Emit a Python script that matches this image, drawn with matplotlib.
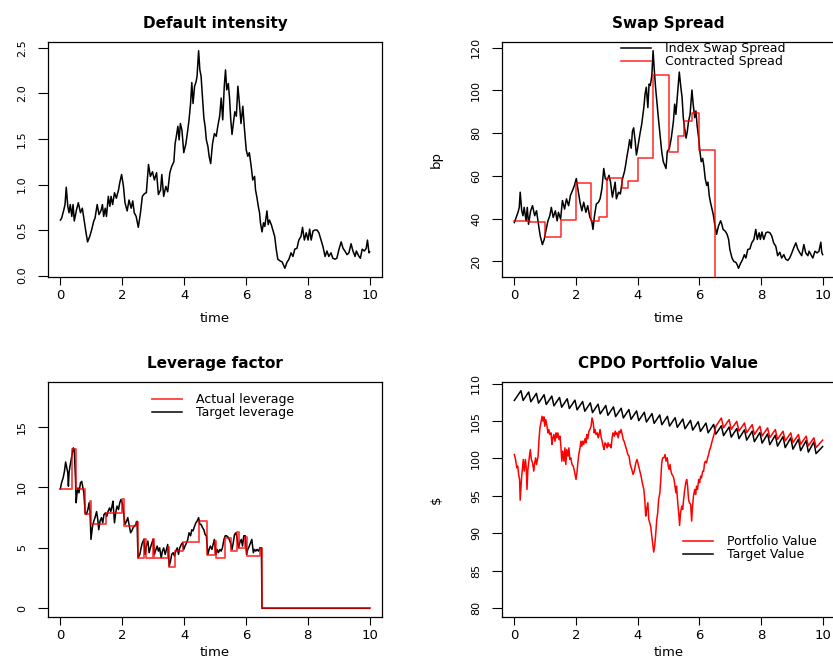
import numpy as np
import matplotlib
matplotlib.use('Agg')
import matplotlib.pyplot as plt

plt.rcParams['font.family'] = ['DejaVu Sans']

W, H = 833, 662

# default intensity path (time, lambda)
intensity = [
    (0.00, 0.61), (0.04, 0.63), (0.11, 0.72), (0.15, 0.78), (0.19, 0.97), (0.24, 0.76),
    (0.28, 0.69), (0.32, 0.78), (0.37, 0.65), (0.41, 0.78), (0.45, 0.60), (0.52, 0.72),
    (0.58, 0.80), (0.65, 0.69), (0.71, 0.74), (0.78, 0.58), (0.83, 0.47), (0.88, 0.37),
    (0.95, 0.43), (1.01, 0.50), (1.08, 0.60), (1.12, 0.63), (1.19, 0.78), (1.25, 0.67),
    (1.32, 0.72), (1.36, 0.78), (1.40, 0.65), (1.45, 0.74), (1.49, 0.65), (1.55, 0.87),
    (1.60, 0.76), (1.64, 0.87), (1.69, 0.78), (1.75, 0.91), (1.81, 0.85), (1.88, 0.94),
    (1.92, 1.02), (1.98, 1.11), (2.04, 0.98), (2.09, 0.80), (2.16, 0.71), (2.22, 0.83),
    (2.29, 0.74), (2.34, 0.82), (2.39, 0.69), (2.45, 0.65), (2.52, 0.53), (2.59, 0.69),
    (2.65, 0.87), (2.72, 0.90), (2.78, 0.91), (2.85, 1.22), (2.91, 1.09), (2.98, 1.14),
    (3.04, 1.05), (3.11, 1.13), (3.17, 0.89), (3.24, 0.94), (3.28, 1.11), (3.34, 0.87),
    (3.41, 0.98), (3.47, 0.92), (3.54, 1.13), (3.60, 1.20), (3.67, 1.25), (3.71, 1.45),
    (3.75, 1.53), (3.80, 1.64), (3.84, 1.49), (3.88, 1.67), (3.93, 1.60), (3.99, 1.35),
    (4.06, 1.45), (4.12, 1.60), (4.16, 1.71), (4.21, 1.89), (4.25, 2.12), (4.29, 1.89),
    (4.34, 2.08), (4.39, 2.13), (4.42, 2.19), (4.47, 2.47), (4.51, 2.26), (4.55, 2.19),
    (4.60, 1.93), (4.64, 1.73), (4.68, 1.64), (4.72, 1.49), (4.77, 1.42), (4.81, 1.31),
    (4.86, 1.23), (4.92, 1.45), (4.98, 1.56), (5.04, 1.53), (5.09, 1.64), (5.15, 1.75),
    (5.20, 1.95), (5.25, 1.71), (5.30, 2.08), (5.34, 2.26), (5.38, 2.04), (5.43, 2.11),
    (5.47, 1.95), (5.51, 1.71), (5.55, 1.55), (5.60, 1.69), (5.64, 1.80), (5.69, 1.75),
    (5.74, 2.08), (5.79, 1.89), (5.84, 1.67), (5.90, 1.86), (5.95, 1.62), (6.01, 1.38),
    (6.06, 1.31), (6.11, 1.35), (6.17, 1.20), (6.22, 1.05), (6.28, 1.09), (6.31, 0.94),
    (6.35, 0.87), (6.40, 0.76), (6.44, 0.69), (6.47, 0.58), (6.52, 0.48), (6.57, 0.58),
    (6.61, 0.54), (6.68, 0.71), (6.72, 0.56), (6.76, 0.61), (6.82, 0.56), (6.87, 0.50),
    (6.93, 0.43), (6.98, 0.29), (7.03, 0.18), (7.11, 0.16), (7.17, 0.15), (7.26, 0.08),
    (7.32, 0.14), (7.39, 0.18), (7.46, 0.25), (7.52, 0.21), (7.58, 0.29), (7.65, 0.30),
    (7.71, 0.39), (7.78, 0.43), (7.83, 0.53), (7.89, 0.39), (7.95, 0.47), (8.01, 0.39),
    (8.06, 0.51), (8.11, 0.39), (8.17, 0.49), (8.23, 0.50), (8.30, 0.50), (8.36, 0.47),
    (8.43, 0.39), (8.49, 0.32), (8.56, 0.21), (8.62, 0.27), (8.68, 0.21), (8.75, 0.25),
    (8.81, 0.19), (8.88, 0.18), (8.94, 0.19), (9.01, 0.29), (9.08, 0.37), (9.14, 0.30),
    (9.20, 0.27), (9.27, 0.23), (9.33, 0.25), (9.40, 0.35), (9.46, 0.27), (9.53, 0.21),
    (9.57, 0.27), (9.64, 0.22), (9.70, 0.19), (9.76, 0.29), (9.83, 0.27), (9.89, 0.30),
    (9.93, 0.39), (9.98, 0.25), (10.00, 0.26),
]

# index swap spread in bp
index_spread = [
    (0.00, 38.2), (0.04, 39.8), (0.12, 43.0), (0.16, 45.3), (0.19, 52.4), (0.24, 43.7),
    (0.28, 41.4), (0.32, 45.3), (0.38, 39.0), (0.42, 45.3), (0.46, 37.4), (0.53, 43.7),
    (0.59, 46.1), (0.66, 41.4), (0.72, 43.7), (0.79, 36.6), (0.84, 31.9), (0.91, 27.9),
    (0.97, 30.3), (1.02, 34.2), (1.09, 39.0), (1.15, 41.4), (1.20, 45.3), (1.26, 40.6),
    (1.33, 43.7), (1.39, 39.0), (1.43, 43.0), (1.50, 39.8), (1.56, 48.5), (1.63, 44.5),
    (1.69, 49.3), (1.76, 46.1), (1.82, 50.9), (1.89, 53.3), (1.95, 55.6), (2.01, 58.8),
    (2.06, 54.0), (2.13, 47.7), (2.19, 43.7), (2.25, 47.7), (2.32, 43.0), (2.38, 46.1),
    (2.45, 40.6), (2.51, 39.0), (2.55, 35.0), (2.60, 41.4), (2.66, 46.9), (2.73, 47.7),
    (2.78, 49.3), (2.84, 54.0), (2.90, 63.5), (2.95, 58.8), (3.01, 58.0), (3.07, 60.3),
    (3.12, 57.1), (3.18, 50.1), (3.23, 54.0), (3.27, 57.1), (3.31, 49.3), (3.38, 52.4),
    (3.44, 51.6), (3.51, 58.8), (3.57, 61.9), (3.61, 65.1), (3.66, 69.8), (3.70, 73.0),
    (3.74, 77.0), (3.79, 73.0), (3.83, 80.9), (3.87, 82.5), (3.92, 76.2), (3.96, 69.8),
    (4.00, 73.0), (4.07, 79.3), (4.13, 84.1), (4.20, 92.0), (4.24, 98.3), (4.28, 101.5),
    (4.33, 92.0), (4.37, 103.0), (4.41, 102.3), (4.46, 107.0), (4.50, 118.6), (4.54, 109.4),
    (4.58, 101.5), (4.63, 93.6), (4.67, 87.3), (4.72, 80.0), (4.78, 71.4), (4.83, 66.7),
    (4.92, 63.5), (4.96, 71.4), (5.03, 73.0), (5.09, 77.7), (5.16, 85.6), (5.20, 93.6),
    (5.24, 88.8), (5.30, 99.9), (5.35, 108.6), (5.40, 101.5), (5.44, 96.8), (5.48, 87.3),
    (5.52, 82.5), (5.57, 77.7), (5.61, 80.9), (5.65, 85.6), (5.70, 88.8), (5.76, 100.2),
    (5.80, 93.6), (5.85, 87.3), (5.89, 90.4), (5.93, 83.3), (5.98, 77.7), (6.02, 71.4),
    (6.06, 66.7), (6.11, 68.2), (6.15, 64.3), (6.19, 58.8), (6.24, 55.6), (6.28, 57.1),
    (6.32, 50.9), (6.36, 47.7), (6.41, 44.5), (6.45, 42.1), (6.50, 37.4), (6.56, 32.7),
    (6.62, 36.6), (6.69, 39.0), (6.73, 37.4), (6.77, 35.0), (6.84, 34.2), (6.90, 32.7),
    (6.95, 30.3), (6.99, 25.6), (7.06, 21.6), (7.12, 20.0), (7.19, 19.5), (7.23, 18.4),
    (7.27, 16.8), (7.34, 19.2), (7.40, 20.8), (7.46, 23.2), (7.51, 21.6), (7.57, 25.6),
    (7.64, 25.9), (7.70, 28.7), (7.77, 30.3), (7.83, 35.0), (7.88, 30.3), (7.94, 33.4),
    (7.98, 30.3), (8.03, 33.8), (8.09, 30.3), (8.16, 33.4), (8.22, 33.8), (8.29, 33.4),
    (8.35, 31.9), (8.41, 28.7), (8.48, 27.1), (8.54, 22.7), (8.61, 24.3), (8.67, 21.6),
    (8.74, 23.2), (8.80, 21.1), (8.87, 20.5), (8.93, 21.6), (9.00, 24.0), (9.06, 26.3),
    (9.13, 28.7), (9.19, 25.9), (9.26, 24.0), (9.32, 22.7), (9.39, 27.9), (9.45, 24.0),
    (9.52, 22.7), (9.56, 24.8), (9.62, 23.2), (9.68, 21.6), (9.75, 24.8), (9.82, 24.0),
    (9.88, 24.8), (9.94, 29.0), (9.97, 24.3), (10.00, 23.2),
]

# contracted spread, reset at each roll date
contracted_spread = [
    (0.00, 39.0), (0.50, 38.6), (1.00, 31.4), (1.50, 39.3), (2.00, 56.7), (2.50, 38.7),
    (2.75, 40.6), (3.00, 59.0), (3.50, 54.5), (3.70, 57.7), (4.00, 68.2), (4.50, 107.0),
    (5.00, 71.4), (5.30, 78.7), (5.50, 85.7), (5.75, 89.3), (6.00, 72.0), (6.50, 0.0),
    (10.00, 0.0),
]

# actual leverage (piecewise constant between rebalancings)
actual_leverage = [
    (0.00, 9.88), (0.38, 13.2), (0.51, 9.88), (0.81, 7.84), (0.97, 8.86), (1.00, 7.00),
    (1.48, 7.90), (2.00, 9.08), (2.07, 6.83), (2.45, 7.16), (2.52, 4.18), (2.72, 5.70),
    (2.76, 4.18), (3.00, 5.75), (3.04, 4.18), (3.47, 5.10), (3.50, 3.45), (3.72, 4.70),
    (3.97, 5.45), (4.48, 7.24), (4.75, 4.38), (5.00, 5.55), (5.02, 4.18), (5.33, 5.85),
    (5.52, 4.75), (5.72, 6.30), (5.78, 5.00), (5.98, 5.90), (6.02, 4.32), (6.47, 5.00),
    (6.52, 0.0), (10.00, 0.0),
]

target_leverage = [
    (0.00, 9.88), (0.04, 10.4), (0.09, 10.8), (0.13, 11.3), (0.17, 12.1), (0.20, 11.7),
    (0.24, 11.2), (0.26, 10.1), (0.28, 11.2), (0.31, 11.75), (0.35, 12.3), (0.39, 12.85),
    (0.42, 13.27), (0.45, 13.1), (0.49, 10.65), (0.51, 8.73), (0.54, 9.55), (0.57, 9.96),
    (0.60, 9.55), (0.65, 10.38), (0.69, 10.5), (0.72, 10.1), (0.76, 9.55), (0.80, 7.9),
    (0.84, 7.76), (0.89, 8.17), (0.93, 8.73), (0.96, 7.9), (0.99, 5.7), (1.04, 6.8),
    (1.08, 7.2), (1.12, 7.5), (1.17, 8.0), (1.21, 7.35), (1.24, 6.5), (1.28, 7.2),
    (1.33, 7.5), (1.37, 7.07), (1.41, 7.76), (1.46, 7.9), (1.50, 7.6), (1.54, 8.0),
    (1.59, 8.3), (1.63, 8.0), (1.67, 8.45), (1.70, 8.86), (1.75, 7.07), (1.79, 7.9),
    (1.83, 8.45), (1.88, 8.17), (1.92, 8.73), (1.96, 9.0), (2.01, 8.6), (2.05, 7.76),
    (2.09, 6.94), (2.14, 7.2), (2.18, 7.5), (2.22, 6.94), (2.27, 6.25), (2.31, 6.4),
    (2.35, 6.66), (2.39, 6.8), (2.44, 6.94), (2.48, 7.2), (2.51, 4.18), (2.57, 4.46),
    (2.61, 5.0), (2.65, 5.42), (2.70, 5.7), (2.74, 4.46), (2.78, 5.15), (2.83, 5.56),
    (2.87, 4.6), (2.91, 5.0), (2.96, 5.42), (3.00, 5.7), (3.04, 4.46), (3.09, 4.87),
    (3.13, 5.15), (3.17, 4.73), (3.21, 5.0), (3.26, 4.18), (3.30, 4.73), (3.34, 5.0),
    (3.39, 4.46), (3.43, 4.87), (3.47, 5.28), (3.52, 3.5), (3.56, 3.9), (3.60, 4.46),
    (3.65, 4.6), (3.69, 4.32), (3.73, 4.73), (3.78, 5.0), (3.82, 4.46), (3.86, 5.0),
    (3.91, 5.28), (3.95, 5.42), (3.99, 4.87), (4.03, 5.15), (4.08, 5.42), (4.12, 5.7),
    (4.16, 6.25), (4.21, 6.0), (4.25, 6.5), (4.29, 6.4), (4.34, 6.8), (4.38, 7.07),
    (4.42, 7.2), (4.47, 7.5), (4.51, 6.94), (4.55, 6.94), (4.60, 6.66), (4.64, 6.5),
    (4.68, 6.1), (4.72, 6.0), (4.77, 4.46), (4.81, 4.87), (4.85, 5.15), (4.90, 4.87),
    (4.94, 5.28), (4.98, 5.7), (5.03, 4.46), (5.07, 4.87), (5.11, 4.6), (5.16, 4.87),
    (5.20, 4.73), (5.24, 5.0), (5.29, 5.7), (5.33, 6.0), (5.37, 6.0), (5.42, 5.9),
    (5.46, 5.7), (5.50, 5.42), (5.55, 4.87), (5.59, 5.42), (5.63, 6.1), (5.68, 6.25),
    (5.72, 5.7), (5.76, 5.0), (5.80, 5.42), (5.85, 5.7), (5.89, 5.15), (5.93, 6.0),
    (5.98, 6.0), (6.02, 4.46), (6.06, 4.87), (6.11, 5.15), (6.15, 5.42), (6.19, 5.7),
    (6.24, 4.6), (6.28, 4.87), (6.32, 4.73), (6.36, 4.87), (6.41, 4.73), (6.45, 5.0),
    (6.50, 5.0), (6.52, 0.0), (10.00, 0.0),
]

# CPDO portfolio value up to the cash-in
portfolio_value = [
    (0.00, 100.53), (0.04, 99.87), (0.08, 98.76), (0.11, 98.98), (0.14, 97.87), (0.17, 97.2),
    (0.19, 94.44), (0.23, 97.2), (0.26, 98.53), (0.29, 99.87), (0.32, 98.31), (0.36, 99.87),
    (0.39, 98.53), (0.41, 95.87), (0.44, 98.53), (0.49, 100.31), (0.52, 101.2), (0.55, 99.87),
    (0.59, 99.42), (0.63, 98.31), (0.66, 99.42), (0.69, 100.09), (0.72, 99.2), (0.77, 100.31),
    (0.80, 102.53), (0.83, 104.09), (0.86, 104.76), (0.90, 105.64), (0.93, 104.98), (0.96, 105.56),
    (0.99, 104.31), (1.02, 105.2), (1.06, 104.31), (1.09, 103.42), (1.12, 103.87), (1.15, 103.2),
    (1.19, 103.42), (1.22, 101.87), (1.25, 102.76), (1.28, 103.2), (1.32, 102.31), (1.35, 103.42),
    (1.38, 102.76), (1.41, 103.42), (1.45, 102.53), (1.48, 102.98), (1.51, 101.64), (1.54, 99.64),
    (1.57, 100.98), (1.61, 99.64), (1.64, 101.42), (1.67, 99.2), (1.70, 101.2), (1.74, 100.31),
    (1.77, 101.42), (1.80, 99.87), (1.83, 100.09), (1.87, 99.2), (1.91, 98.98), (1.95, 98.31),
    (2.00, 97.2), (2.03, 98.09), (2.06, 99.42), (2.09, 100.53), (2.13, 101.42), (2.16, 102.31),
    (2.19, 101.64), (2.22, 102.31), (2.25, 101.87), (2.29, 102.62), (2.32, 102.09), (2.35, 103.2),
    (2.38, 102.62), (2.42, 103.64), (2.45, 103.87), (2.49, 104.31), (2.52, 105.42), (2.56, 104.76),
    (2.59, 103.42), (2.62, 103.87), (2.65, 103.2), (2.69, 103.42), (2.72, 102.76), (2.75, 103.2),
    (2.78, 103.87), (2.82, 102.76), (2.85, 102.31), (2.88, 101.64), (2.91, 101.2), (2.94, 102.09),
    (2.98, 101.87), (3.01, 101.42), (3.04, 102.09), (3.07, 101.64), (3.11, 101.87), (3.14, 101.42),
    (3.17, 102.76), (3.20, 103.42), (3.24, 102.98), (3.27, 103.64), (3.30, 103.2), (3.33, 103.42),
    (3.37, 102.76), (3.40, 103.64), (3.43, 103.42), (3.46, 103.87), (3.50, 103.2), (3.53, 102.53),
    (3.56, 102.31), (3.59, 101.87), (3.64, 101.2), (3.68, 100.53), (3.72, 100.31), (3.76, 99.2),
    (3.81, 98.53), (3.85, 97.87), (3.89, 98.31), (3.94, 99.42), (3.98, 99.87), (4.02, 99.2),
    (4.07, 98.31), (4.11, 97.64), (4.15, 96.76), (4.20, 95.87), (4.23, 94.53), (4.26, 92.31),
    (4.29, 93.2), (4.33, 94.09), (4.36, 91.87), (4.39, 91.42), (4.42, 90.98), (4.46, 89.64),
    (4.49, 88.53), (4.52, 87.51), (4.55, 88.31), (4.58, 89.64), (4.62, 91.87), (4.65, 92.76),
    (4.68, 94.53), (4.72, 95.42), (4.75, 97.2), (4.78, 99.42), (4.81, 100.09), (4.85, 100.09),
    (4.89, 100.53), (4.92, 99.64), (4.96, 100.09), (4.99, 98.98), (5.02, 98.53), (5.05, 99.2),
    (5.08, 98.31), (5.11, 97.87), (5.15, 97.64), (5.18, 97.2), (5.21, 96.31), (5.24, 95.42),
    (5.26, 96.31), (5.30, 94.09), (5.33, 92.76), (5.36, 91.07), (5.39, 92.76), (5.43, 93.64),
    (5.46, 93.2), (5.49, 94.53), (5.52, 95.64), (5.56, 96.76), (5.59, 97.2), (5.62, 96.31),
    (5.65, 94.53), (5.68, 94.09), (5.72, 93.87), (5.75, 91.64), (5.78, 93.64), (5.81, 94.98),
    (5.85, 95.87), (5.88, 95.2), (5.91, 96.31), (5.94, 95.87), (5.98, 97.2), (6.01, 96.76),
    (6.04, 97.64), (6.07, 97.42), (6.11, 98.31), (6.14, 98.31), (6.17, 99.42), (6.20, 99.64),
    (6.23, 99.42), (6.27, 100.09), (6.30, 100.53), (6.33, 101.11), (6.36, 101.42), (6.40, 102.09),
    (6.43, 102.53), (6.46, 102.98), (6.49, 103.42), (6.535, 104.3),
]

# target value: level just before / just after each quarterly coupon
target_start, target_end = 107.75, 101.6
target_before = [
    109.05, 108.87, 108.69, 108.51, 108.33, 108.15, 107.97, 107.79, 107.61, 107.43,
    107.25, 107.07, 106.89, 106.71, 106.53, 106.35, 106.17, 105.99, 105.81, 105.63,
    105.45, 105.27, 105.09, 104.91, 104.73, 104.55, 104.37, 104.19, 104.01, 103.83,
    103.65, 103.47, 103.29, 103.11, 102.93, 102.75, 102.57, 102.39, 102.21,
]
target_after = [
    107.75, 107.57, 107.39, 107.21, 107.03, 106.85, 106.67, 106.49, 106.31, 106.13,
    105.95, 105.77, 105.59, 105.41, 105.23, 105.05, 104.87, 104.69, 104.51, 104.33,
    104.15, 103.97, 103.79, 103.61, 103.43, 103.25, 103.05, 102.85, 102.65, 102.45,
    102.25, 102.05, 101.85, 101.65, 101.45, 101.25, 101.05, 100.85, 100.65,
]
# portfolio after cash-in (coupons 27..39)
cashin_before = [105.4, 105.18, 104.96, 104.74, 104.52, 104.3, 104.08, 103.86, 103.64,
                 103.42, 103.2, 102.98, 102.76]
cashin_after = [104.1, 103.88, 103.66, 103.44, 103.22, 103.0, 102.78, 102.56, 102.34,
                102.12, 101.9, 101.68, 101.46]
cashin_end = 102.45

coupon_dates = np.arange(1, 40) * 0.25
drop_width = 0.07

x_ticks = [0, 2, 4, 6, 8, 10]


def unzip(pairs):
    a = np.array(pairs, dtype=float)
    return a[:, 0], a[:, 1]


def sawtooth(dates, before, after):
    t = np.column_stack([dates - drop_width / 2, dates + drop_width / 2]).ravel()
    v = np.column_stack([before, after]).ravel()
    return t, v


def padded(lo, hi):
    d = 0.04 * (hi - lo)
    return lo - d, hi + d


def rect(l, t, r, b):
    return [l / W, 1 - b / H, (r - l) / W, (b - t) / H]


fig = plt.figure(figsize=(W / 100, H / 100), dpi=100)


def setup(ax, title, yticks, ylabels, ylim, ylabel='', xlab_y=-41):
    ax.set_xlim(-0.4, 10.4)
    ax.set_ylim(*ylim)
    ax.set_xticks(x_ticks)
    ax.set_xticklabels([str(v) for v in x_ticks], fontsize=9.5)
    ax.set_yticks(yticks)
    ax.set_yticklabels(ylabels, rotation=90, va='center', fontsize=8,
                       family=['Liberation Sans Narrow', 'DejaVu Sans'])
    ax.tick_params(axis='x', length=5.5, width=0.8, pad=3)
    ax.tick_params(axis='y', length=7, width=0.8, pad=8)
    for s in ax.spines.values():
        s.set_linewidth(0.9)
    ax.set_title(title, fontsize=11, fontweight='bold', pad=10)
    ax.set_xlabel('time', fontsize=9.5, va='center')
    ax.xaxis.set_label_coords(0.5, xlab_y / 235)
    ax.set_ylabel(ylabel, fontsize=9.5, va='center')
    ax.yaxis.set_label_coords(-66 / 333, 0.5)


def legend(ax, lines, labels, x0, y0):
    ax.legend(lines, labels, loc='upper left', bbox_to_anchor=(x0 / W, 1 - y0 / H),
              bbox_transform=fig.transFigure, frameon=False, fontsize=9,
              handlelength=2.4, handletextpad=1.1, borderpad=0, borderaxespad=0,
              labelspacing=0.0)


# Default intensity
ax1 = fig.add_axes(rect(48, 42, 382, 277))
t, v = unzip(intensity)
ax1.plot(t, v, color='black', lw=1.1)
setup(ax1, 'Default intensity', [0, 0.5, 1, 1.5, 2, 2.5],
      ['0.0', '0.5', '1.0', '1.5', '2.0', '2.5'], padded(v.min(), v.max()))

# Swap spread
ax2 = fig.add_axes(rect(502, 42, 835, 277))
t, v = unzip(index_spread)
l1, = ax2.plot(t, v, color='black', lw=1.1)
tc, vc = unzip(contracted_spread)
l2, = ax2.step(tc, vc, where='post', color='red', lw=1.1, alpha=0.85)
setup(ax2, 'Swap Spread', [20, 40, 60, 80, 100, 120],
      ['20', '40', '60', '80', '100', '120'], padded(v.min(), v.max()), ylabel='bp')
legend(ax2, [l1, l2], ['Index Swap Spread', 'Contracted Spread'], 621, 42)

# Leverage factor
ax3 = fig.add_axes(rect(48, 382, 382, 617))
t, v = unzip(target_leverage)
l_tgt, = ax3.plot(t, v, color='black', lw=1.1)
ta, va = unzip(actual_leverage)
l_act, = ax3.step(ta, va, where='post', color='red', lw=1.3, alpha=0.75)
setup(ax3, 'Leverage factor', [0, 5, 10, 15], ['0', '5', '10', '15'], padded(0, 18),
      xlab_y=-36)
legend(ax3, [l_act, l_tgt], ['Actual leverage', 'Target leverage'], 152, 393)

# CPDO portfolio value
ax4 = fig.add_axes(rect(502, 382, 835, 617))
ts, vs = sawtooth(coupon_dates, target_before, target_after)
t_tv = np.concatenate([[0], ts, [10]])
v_tv = np.concatenate([[target_start], vs, [target_end]])
l_tv, = ax4.plot(t_tv, v_tv, color='black', lw=1.1)
tp, vp = unzip(portfolio_value)
tc, vc = sawtooth(coupon_dates[26:], cashin_before, cashin_after)
t_pv = np.concatenate([tp, tc, [10]])
v_pv = np.concatenate([vp, vc, [cashin_end]])
l_pv, = ax4.plot(t_pv, v_pv, color='red', lw=1.1)
setup(ax4, 'CPDO Portfolio Value', [80, 85, 90, 95, 100, 105, 110],
      ['80', '85', '90', '95', '100', '105', '110'], padded(80, v_tv.max()), ylabel='$',
      xlab_y=-36)
legend(ax4, [l_pv, l_tv], ['Portfolio Value', 'Target Value'], 683, 535)

fig.savefig('out.png', dpi=100)
